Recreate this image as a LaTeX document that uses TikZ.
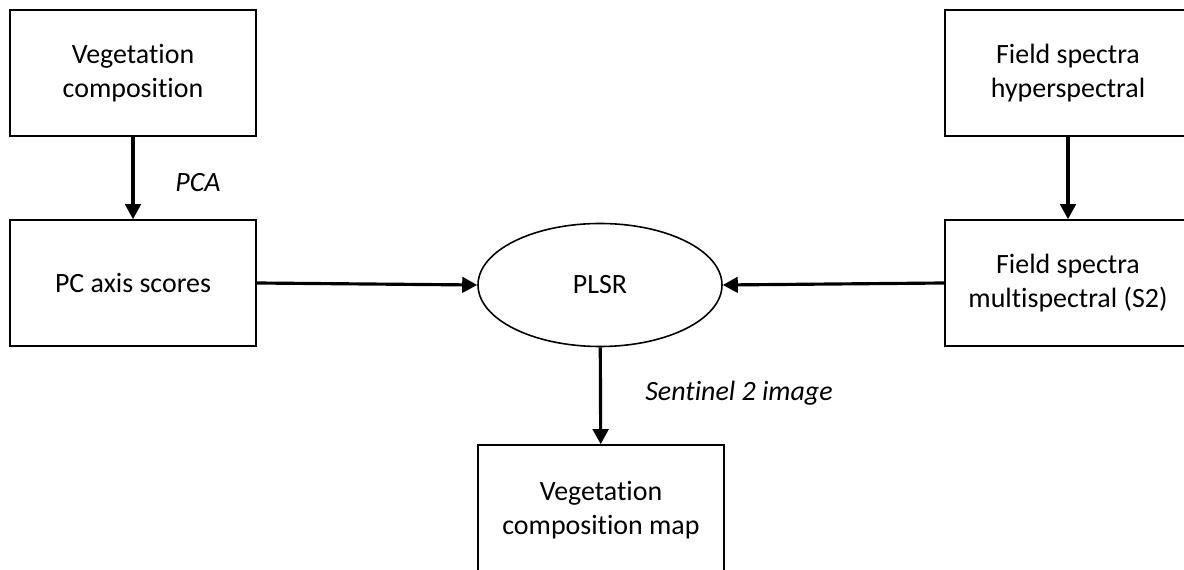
\documentclass[tikz,border=0pt]{standalone}
\usepackage{fontspec}
\setmainfont{Carlito}[Ligatures=NoCommon]
\usetikzlibrary{shapes.geometric,arrows.meta}
\begin{document}
\begin{tikzpicture}[x=0.02cm,y=-0.02cm,
  procBox/.style={rectangle, draw, line width=0.9pt, minimum width=246*0.02cm, minimum height=126*0.02cm, inner sep=0pt, align=center, font=\fontsize{15.9}{19.5}\selectfont},
  methodEllipse/.style={ellipse, draw, line width=0.9pt, minimum width=244*0.02cm, minimum height=123*0.02cm, inner sep=0pt, font=\fontsize{15.9}{19.5}\selectfont},
  stepLabel/.style={font=\fontsize{15.9}{19.5}\selectfont\itshape},
  flowArrow/.style={line width=1.8pt, -{Triangle[length=3mm,width=3.1mm]}}
]
\useasboundingbox (0,0) rectangle (1184,570);
\clip (0,0) rectangle (1184,570);
\node[procBox] (vegComp) at (133,73) {Vegetation\\composition};
\node[procBox] (pcScores) at (133,283) {PC axis scores};
\node[procBox] (hyperSpec) at (1068,73) {Field spectra\\hyperspectral};
\node[procBox] (multiSpec) at (1068,283) {Field spectra\\multispectral (S2)};
\node[methodEllipse] (plsr) at (600,285) {PLSR};
\node[procBox, minimum height=130*0.02cm] (vegMap) at (601,510) {Vegetation\\composition map};
\node[stepLabel] (pcaLabel) at (198,183) {PCA};
\node[stepLabel] (s2Label) at (739,393) {Sentinel 2 image};
\draw[flowArrow] (vegComp) -- (pcScores);
\draw[flowArrow] (hyperSpec) -- (multiSpec);
\draw[flowArrow] (pcScores.east) -- (plsr.west);
\draw[flowArrow] (multiSpec.west) -- (plsr.east);
\draw[flowArrow] (plsr) -- (vegMap);
\end{tikzpicture}
\end{document}
